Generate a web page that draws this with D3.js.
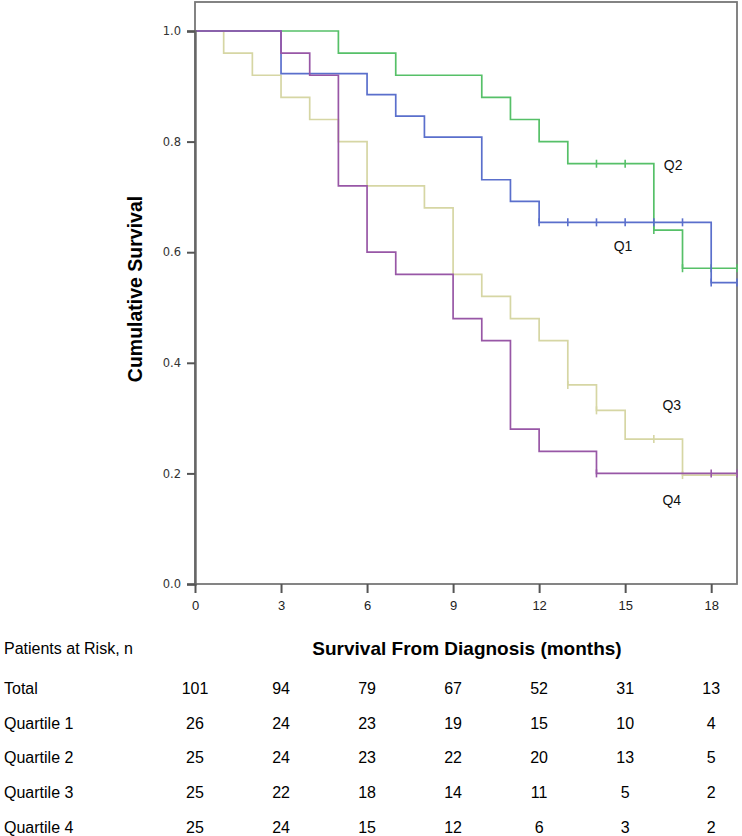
<!DOCTYPE html>
<html>
<head>
<meta charset="utf-8">
<script src="https://cdn.jsdelivr.net/npm/d3@7/dist/d3.min.js"></script>
<style>
  html, body { margin: 0; padding: 0; background: #fff; }
  svg { display: block; }
  text { font-family: "Liberation Sans", Arial, sans-serif; }
</style>
</head>
<body>
<svg id="chart" width="742" height="836"></svg>
<script>
// ---------- DATA ----------
const xTicks = [0, 3, 6, 9, 12, 15, 18];
const yTicks = [0, 0.2, 0.4, 0.6, 0.8, 1.0];
const xMax = 18.9;

// Kaplan-Meier steps: times where survival changes, and survival from that time on
const q1Times = [0, 3, 6, 7, 8, 10, 11, 12, 18];
const q1Surv  = [1, 0.923, 0.885, 0.846, 0.808, 0.731, 0.692, 0.654, 0.545];
const q1Censor = [12, 13, 14, 15, 16, 17, 18, 18.9];

const q2Times = [0, 5, 7, 10, 11, 12, 13, 16, 17];
const q2Surv  = [1, 0.96, 0.92, 0.88, 0.84, 0.80, 0.76, 0.64, 0.571];
const q2Censor = [14, 15, 16, 17, 18, 18.9];

const q3Times = [0, 1, 2, 3, 4, 5, 6, 8, 9, 10, 11, 12, 13, 14, 15, 17];
const q3Surv  = [1, 0.96, 0.92, 0.88, 0.84, 0.80, 0.72, 0.68, 0.56, 0.52, 0.48, 0.44, 0.36, 0.314, 0.262, 0.197];
const q3Censor = [13, 14, 16, 17];

const q4Times = [0, 3, 4, 5, 6, 7, 9, 10, 11, 12, 14];
const q4Surv  = [1, 0.96, 0.92, 0.72, 0.60, 0.56, 0.48, 0.44, 0.28, 0.24, 0.20];
const q4Censor = [14, 18, 18.9];

const seriesNames = ["Q1", "Q2", "Q3", "Q4"];
const seriesColors = ["#5a6fcc", "#56c068", "#d6d6a4", "#9857a6"];

const labelPos = [ // label anchor in data coords (month, survival)
  [14.6, 0.602],
  [16.35, 0.749],
  [16.3, 0.314],
  [16.3, 0.142]
];

const riskRows = ["Total", "Quartile 1", "Quartile 2", "Quartile 3", "Quartile 4"];
const riskTotal = [101, 94, 79, 67, 52, 31, 13];
const riskQ1 = [26, 24, 23, 19, 15, 10, 4];
const riskQ2 = [25, 24, 23, 22, 20, 13, 5];
const riskQ3 = [25, 22, 18, 14, 11, 5, 2];
const riskQ4 = [25, 24, 15, 12, 6, 3, 2];

// ---------- BUILD ----------
const series = seriesNames.map((name, k) => ({
  name,
  times: [q1Times, q2Times, q3Times, q4Times][k],
  surv: [q1Surv, q2Surv, q3Surv, q4Surv][k],
  censor: [q1Censor, q2Censor, q3Censor, q4Censor][k],
  color: seriesColors[k],
  label: labelPos[k]
}));
const riskData = [riskTotal, riskQ1, riskQ2, riskQ3, riskQ4];

const svg = d3.select("#chart");
const L = 195, R = 737, T = 2, B = 584;

const x = d3.scaleLinear().domain([0, xMax]).range([L, R]);
const y = d3.scaleLinear().domain([0, 1]).range([B, 31]);

// frame
svg.append("rect")
  .attr("x", L).attr("y", T).attr("width", R - L).attr("height", B - T)
  .attr("fill", "none").attr("stroke", "#777").attr("stroke-width", 1.8);

// lines
const line = d3.line().x(d => x(d[0])).y(d => y(d[1])).curve(d3.curveStepAfter);
const stepAt = (s, t) => {
  const i = d3.bisectRight(s.times, t) - 1;
  return s.surv[Math.max(0, i)];
};

const order = [2, 1, 0, 3];
order.forEach(k => {
  const s = series[k];
  const pts = s.times.map((t, i) => [t, s.surv[i]]);
  pts.push([xMax, s.surv[s.surv.length - 1]]);
  svg.append("path")
    .attr("d", line(pts))
    .attr("fill", "none")
    .attr("stroke", s.color)
    .attr("stroke-width", 1.7);
  svg.append("g").selectAll("line")
    .data(s.censor).join("line")
    .attr("x1", d => x(d)).attr("x2", d => x(d))
    .attr("y1", d => y(stepAt(s, d)) - 4)
    .attr("y2", d => y(stepAt(s, d)) + 4)
    .attr("stroke", s.color).attr("stroke-width", 1.6);
});

// labels
svg.append("g").selectAll("text")
  .data(series).join("text")
  .attr("x", d => x(d.label[0]))
  .attr("y", d => y(d.label[1]))
  .attr("font-size", 14)
  .attr("fill", "#111")
  .text(d => d.name);

// axes
const yAxis = d3.axisLeft(y).tickValues(yTicks).tickFormat(d3.format(".1f")).tickSize(8).tickPadding(6);
const gy = svg.append("g").attr("transform", `translate(${L},0)`).call(yAxis);
gy.select(".domain").attr("stroke", "#666").attr("stroke-width", 2.4);
gy.selectAll(".tick line").attr("stroke", "#555").attr("stroke-width", 2);
gy.selectAll(".tick text")
  .style("font-size", "11.5px").style("font-family", "'DejaVu Sans', sans-serif")
  .attr("fill", "#333");

const xAxis = d3.axisBottom(x).tickValues(xTicks).tickFormat(d3.format("d")).tickSize(9).tickPadding(8);
const gx = svg.append("g").attr("transform", `translate(0,${B})`).call(xAxis);
gx.select(".domain").remove();
gx.selectAll(".tick line").attr("stroke", "#555").attr("stroke-width", 2);
gx.selectAll(".tick text")
  .style("font-size", "13px").style("font-family", "'Liberation Sans', Arial, sans-serif")
  .attr("fill", "#222");

// y title
svg.append("text")
  .attr("transform", `translate(142,289) rotate(-90)`)
  .attr("text-anchor", "middle")
  .attr("font-size", 19.5).attr("font-weight", "bold")
  .text("Cumulative Survival");

// x title
svg.append("text")
  .attr("x", 467).attr("y", 655)
  .attr("text-anchor", "middle")
  .attr("font-size", 19).attr("font-weight", "bold")
  .text("Survival From Diagnosis (months)");

// risk table
svg.append("text")
  .attr("x", 4).attr("y", 654)
  .attr("font-size", 16)
  .text("Patients at Risk, n");

const rowY = d3.scalePoint().domain(riskRows).range([688, 827]);
riskRows.forEach((r, i) => {
  const g = svg.append("g");
  g.append("text")
    .attr("x", 4).attr("y", rowY(r)).attr("dy", "0.36em")
    .attr("font-size", 16)
    .text(r);
  g.selectAll("text.v")
    .data(riskData[i]).join("text")
    .attr("class", "v")
    .attr("x", (d, j) => x(xTicks[j]))
    .attr("y", rowY(r)).attr("dy", "0.36em")
    .attr("text-anchor", "middle")
    .attr("font-size", 16)
    .text(d => d);
});
</script>
</body>
</html>
